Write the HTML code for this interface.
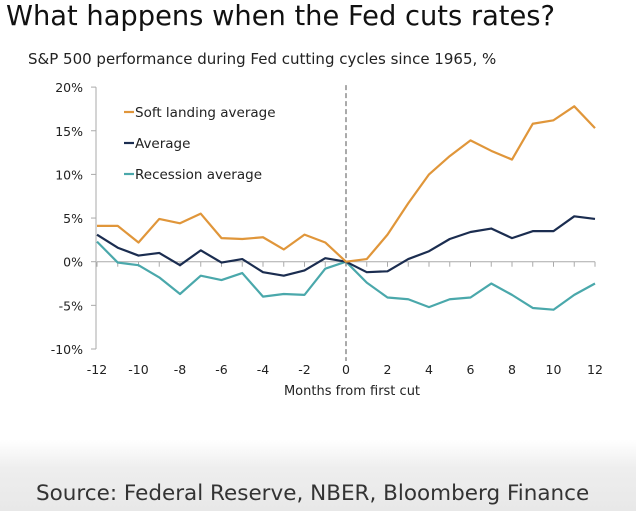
<!DOCTYPE html>
<html><head><meta charset="utf-8"><style>
body{margin:0;width:636px;height:511px;overflow:hidden;background:#fff;font-family:"DejaVu Sans","Liberation Sans",sans-serif;position:relative}
#title{position:absolute;left:6px;top:1px;font-size:27.3px;color:#111;white-space:nowrap}
#sub{position:absolute;left:28px;top:50px;font-size:15px;color:#222;font-family:"DejaVu Sans",sans-serif;white-space:nowrap}
#footer{position:absolute;left:0;top:440px;width:636px;height:71px;background:linear-gradient(#fff,#eee 40%,#e8e8e8)}
#src{position:absolute;left:36px;top:481px;font-size:21.5px;color:#333;white-space:nowrap}
svg{position:absolute;left:0;top:0}
</style></head><body>
<div id="title">What happens when the Fed cuts rates?</div>
<div id="sub">S&amp;P 500 performance during Fed cutting cycles since 1965, %</div>
<div id="footer"></div>
<div id="src">Source: Federal Reserve, NBER, Bloomberg Finance</div>
<svg id="chart" width="636" height="440"></svg>
<script>
const months=[-12,-11,-10,-9,-8,-7,-6,-5,-4,-3,-2,-1,0,1,2,3,4,5,6,7,8,9,10,11,12];
const softLanding=[4.1,4.1,2.2,4.9,4.4,5.5,2.7,2.6,2.8,1.4,3.1,2.2,0,0.3,3.1,6.7,10.0,12.1,13.9,12.7,11.7,15.8,16.2,17.8,15.3];
const average=[3.1,1.6,0.7,1.0,-0.4,1.3,-0.1,0.3,-1.2,-1.6,-1.0,0.4,0,-1.2,-1.1,0.3,1.2,2.6,3.4,3.8,2.7,3.5,3.5,5.2,4.9];
const recession=[2.3,-0.1,-0.4,-1.8,-3.7,-1.6,-2.1,-1.3,-4.0,-3.7,-3.8,-0.8,0,-2.4,-4.1,-4.3,-5.2,-4.3,-4.1,-2.5,-3.8,-5.3,-5.5,-3.8,-2.5];
const yTicks=[20,15,10,5,0,-5,-10];
const xTicks=[-12,-10,-8,-6,-4,-2,0,2,4,6,8,10,12];
const NS="http://www.w3.org/2000/svg";
const svg=document.getElementById('chart');
const X=m=>346+m*20.75;
const Y=v=>261.7-v*8.73;
const F='DejaVu Sans, sans-serif';
function mk(t,a,p){const e=document.createElementNS(NS,t);for(const k in a)e.setAttribute(k,a[k]);(p||svg).appendChild(e);return e;}
const yAxis=mk('line',{x1:96,x2:96,y1:Y(20),y2:Y(-10),stroke:'#aaa'});


yTicks.forEach(v=>{
 mk('line',{x1:91,x2:96,y1:Y(v),y2:Y(v),stroke:'#aaa'});
 const t=mk('text',{x:83,y:Y(v)+5,'text-anchor':'end','font-size':12.5,fill:'#222','font-family':F});
 t.textContent=v+'%';
 
 
});
const xAxis=mk('line',{x1:X(-12),x2:X(12),y1:Y(0),y2:Y(0),stroke:'#aaa'});


months.forEach(m=>mk('line',{x1:X(m),x2:X(m),y1:Y(0),y2:Y(0)+5,stroke:'#aaa'}));
xTicks.forEach(m=>{
 const t=mk('text',{x:X(m),y:374,'text-anchor':'middle','font-size':12.5,fill:'#222','font-family':F});
 t.textContent=m;
 
 
});
const xt=mk('text',{x:X(0)+6,y:395,'text-anchor':'middle','font-size':13,fill:'#222','font-family':F});
xt.textContent='Months from first cut';


const cut=mk('line',{x1:X(0),x2:X(0),y1:Y(20)-2,y2:Y(-10)+12,stroke:'#aaa','stroke-width':2,'stroke-dasharray':'5,3'});


function series(vals,color,name){
 const p=mk('polyline',{points:vals.map((v,i)=>X(months[i])+','+Y(v)).join(' '),fill:'none',stroke:color,'stroke-width':2.2,'stroke-linejoin':'round'});
 
 
}
series(recession,'#4aa8ab','recession-average-line');
series(average,'#1b2d50','average-line');
series(softLanding,'#e0963a','soft-landing-line');
const leg=[['Soft landing average','#e0963a','legend-soft-landing'],['Average','#1b2d50','legend-average'],['Recession average','#4aa8ab','legend-recession']];
leg.forEach((l,i)=>{
 const y=112+i*31;
 mk('line',{x1:124,x2:134,y1:y,y2:y,stroke:l[1],'stroke-width':2.2});
 const t=mk('text',{x:135,y:y+5,'font-size':13.5,fill:'#222','font-family':F});
 t.textContent=l[0];
 
 
});
</script>
</body></html>
